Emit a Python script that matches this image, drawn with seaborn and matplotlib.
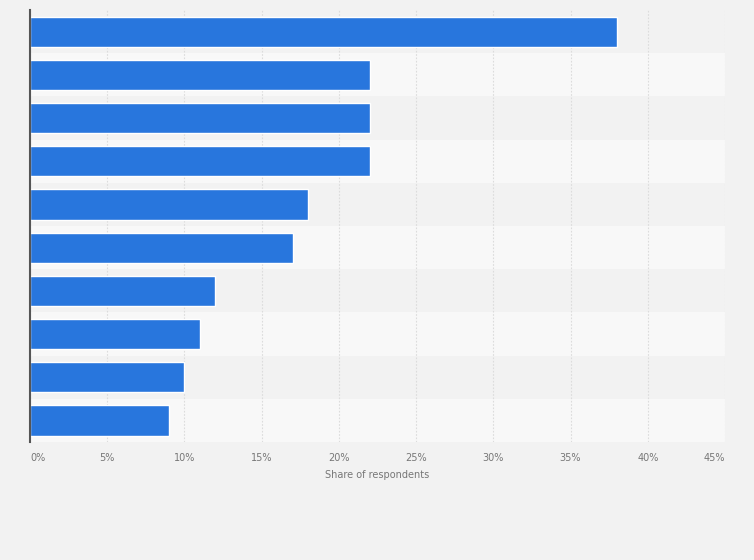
import pandas as pd
import matplotlib
matplotlib.use("Agg")
import matplotlib.pyplot as plt
import seaborn as sns

# Data (category names are not shown in the chart)
categories = ["Item 1", "Item 2", "Item 3", "Item 4", "Item 5",
              "Item 6", "Item 7", "Item 8", "Item 9", "Item 10"]
shares = [38, 22, 22, 22, 18, 17, 12, 11, 10, 9]
x_ticks = [0, 5, 10, 15, 20, 25, 30, 35, 40, 45]
x_tick_labels = [f"{t}%" for t in x_ticks]

df = pd.DataFrame({"category": categories, "share": shares})

sns.set_style("white")
plt.rcParams['font.family'] = ['DejaVu Sans']

fig = plt.figure(figsize=(7.54, 5.6), dpi=100, facecolor="#f2f2f2")
ax = fig.add_axes([0.0398, 0.2107, 0.9217, 0.7713])
ax.set_facecolor("#f2f2f2")

# alternating row bands
for i in range(len(categories)):
    color = "#f2f2f2" if i % 2 == 0 else "#f8f8f8"
    ax.axhspan(i - 0.5, i + 0.5, color=color, zorder=0, lw=0)

sns.barplot(data=df, x="share", y="category", orient="h", color="#2876dd",
            saturation=1, width=0.7, ax=ax, zorder=3)

ax.set_xlim(0, 45)
ax.set_ylim(len(categories) - 0.5, -0.5)
ax.set_xticks(x_ticks)
ax.set_xticklabels(x_tick_labels, fontsize=7, color="#777777")
labels = ax.get_xticklabels()
labels[0].set_ha("left")
labels[-1].set_ha("right")
ax.set_yticks([])
ax.set_ylabel("")
ax.set_xlabel("Share of respondents", fontsize=7, color="#777777", labelpad=5)
ax.tick_params(axis="x", length=0, pad=8)

ax.grid(axis="x", color="#dcdcdc", linestyle=(0, (1.5, 1.5)), linewidth=0.8, zorder=1)
ax.set_axisbelow(True)

for side in ["top", "right", "bottom"]:
    ax.spines[side].set_visible(False)
ax.spines["left"].set_color("#555555")
ax.spines["left"].set_linewidth(1.5)
ax.spines["left"].set_zorder(5)

fig.savefig("out.png", dpi=100, facecolor=fig.get_facecolor())
